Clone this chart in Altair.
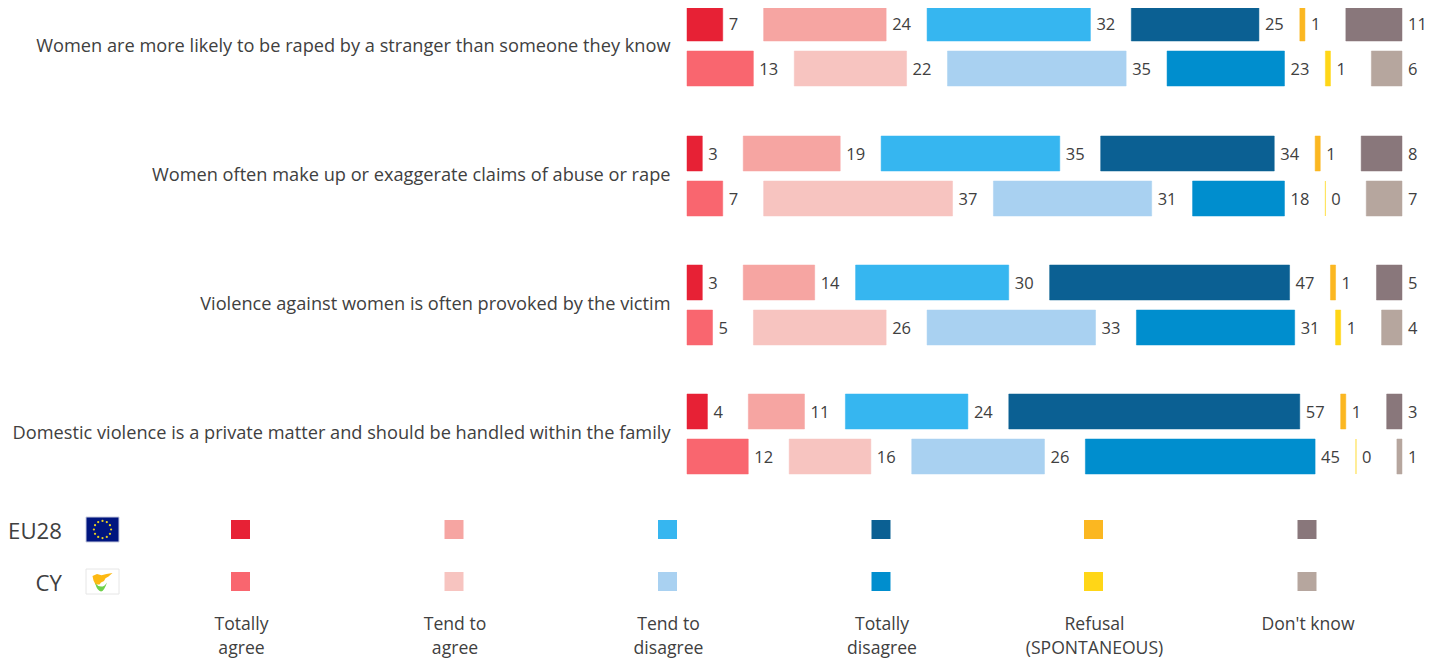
import math
import altair as alt
import pandas as pd

questions = [
    "Women are more likely to be raped by a stranger than someone they know",
    "Women often make up or exaggerate claims of abuse or rape",
    "Violence against women is often provoked by the victim",
    "Domestic violence is a private matter and should be handled within the family",
]
responses = ["Totally agree", "Tend to agree", "Tend to disagree", "Totally disagree",
             "Refusal (SPONTANEOUS)", "Don't know"]
legend_lines = [["Totally", "agree"], ["Tend to", "agree"], ["Tend to", "disagree"],
                ["Totally", "disagree"], ["Refusal", "(SPONTANEOUS)"], ["Don't know"]]
eu28 = [[7, 24, 32, 25, 1, 11], [3, 19, 35, 34, 1, 8], [3, 14, 30, 47, 1, 5], [4, 11, 24, 57, 1, 3]]
cy = [[13, 22, 35, 23, 1, 6], [7, 37, 31, 18, 0, 7], [5, 26, 33, 31, 1, 4], [12, 16, 26, 45, 0, 1]]
eu_colors = ["#E72135", "#F6A5A2", "#36B6F0", "#0B6093", "#FBB721", "#89777B"]
cy_colors = ["#F9666F", "#F7C4C0", "#A9D1F1", "#008ECE", "#FFD617", "#B6A69E"]

W, H = 1423, 652
PX_PER_UNIT = 5.105
ORIGIN = 687
GAP = 40.9 / PX_PER_UNIT
TXT = "#404040"
FONT = "Open Sans"


def ux(page_x):
    return (page_x - ORIGIN) / PX_PER_UNIT


def uy(page_y):
    return page_y - 8


X = alt.Scale(domain=[ux(8), ux(8 + W)], range=[0, W])
Y = alt.Scale(domain=[0, H], range=[0, H])


def xc(f="x"):
    return alt.X(f"{f}:Q", scale=X, axis=None)


def yc(f="y"):
    return alt.Y(f"{f}:Q", scale=Y, axis=None)


group_tops = [6, 136, 265, 394]
bars = []
for g, top in enumerate(group_tops):
    for r, (vals, cols) in enumerate([(eu28[g], eu_colors), (cy[g], cy_colors)]):
        cum = 0
        y0 = top + 45 * r
        for i, v in enumerate(vals):
            x0 = cum + i * GAP
            bars.append(dict(x=x0, x2=x0 + v, y=uy(y0), y2=uy(y0 + 35), ym=uy(y0 + 19),
                             v=v, c=cols[i]))
            cum += v
bars = pd.DataFrame(bars)

bar_layer = alt.Chart(bars).mark_rect(strokeWidth=0.5).encode(
    x=xc(), x2="x2:Q", y=yc(), y2="y2:Q",
    fill=alt.Fill("c:N", scale=None), stroke=alt.Stroke("c:N", scale=None))
val_layer = alt.Chart(bars).mark_text(align="left", baseline="middle", dx=6, font=FONT,
                                      fontSize=16.5, color=TXT).encode(
    x=alt.X("x2:Q", scale=X, axis=None), y=yc("ym"), text="v:Q")

q_df = pd.DataFrame(dict(q=questions, x=[ux(670.5)] * 4,
                         y=[uy(v) for v in (47, 176, 305, 434)]))
q_layer = alt.Chart(q_df).mark_text(align="right", baseline="middle", font=FONT, fontSize=18.2,
                                    color=TXT).encode(x=xc(), y=yc(), text="q:N")

# legend
col_centers = [240.5, 454, 667.5, 881, 1093.5, 1307]
squares = []
for i, cx in enumerate(col_centers):
    for cols, ym in ((eu_colors, 529.5), (cy_colors, 581.5)):
        squares.append(dict(x=ux(cx - 9.5), x2=ux(cx + 9.5), y=uy(ym - 9.5), y2=uy(ym + 9.5), c=cols[i]))
sq_layer = alt.Chart(pd.DataFrame(squares)).mark_rect().encode(
    x=xc(), x2="x2:Q", y=yc(), y2="y2:Q", fill=alt.Fill("c:N", scale=None))

labels = []
for cx, lines in zip(col_centers, legend_lines):
    for k, t in enumerate(lines):
        labels.append(dict(x=ux(cx + 1), y=uy(624.5 + 24 * k), t=t))
lab_layer = alt.Chart(pd.DataFrame(labels)).mark_text(align="center", baseline="middle", font=FONT,
                                                      fontSize=17.6, color=TXT).encode(
    x=xc(), y=yc(), text="t:N")

country = pd.DataFrame(dict(x=[ux(62), ux(62)], y=[uy(532), uy(584)], t=["EU28", "CY"]))
country_layer = alt.Chart(country).mark_text(align="right", baseline="middle", font=FONT,
                                             fontSize=22.2, color=TXT).encode(
    x=xc(), y=yc(), text="t:N")

# flags
flag_rects = pd.DataFrame([
    dict(x=ux(86), x2=ux(119), y=uy(517), y2=uy(542), c="#00157F", s="#C8CCE0"),
    dict(x=ux(86), x2=ux(119), y=uy(569), y2=uy(594), c="#FFFFFF", s="#E6E6E6"),
])
flag_layer = alt.Chart(flag_rects).mark_rect(strokeWidth=1).encode(
    x=xc(), x2="x2:Q", y=yc(), y2="y2:Q",
    fill=alt.Fill("c:N", scale=None), stroke=alt.Stroke("s:N", scale=None))
stars = pd.DataFrame([
    dict(x=ux(102.5 + 8.6 * math.cos(a * math.pi / 6)), y=uy(529.5 + 8.6 * math.sin(a * math.pi / 6)))
    for a in range(12)])
star_layer = alt.Chart(stars).mark_point(filled=True, shape="circle", size=5, opacity=1,
                                         color="#E8D020").encode(x=xc(), y=yc())
island = ("M-1,-0.35 L-0.55,-0.55 L-0.1,-0.42 L0.4,-0.55 L1,-0.65 L0.6,-0.3 L0.3,-0.12 "
          "L0.15,0.15 L-0.15,0.3 L-0.3,0.5 L-0.7,0.5 L-0.9,0.1 Z")
branch = "M-1,-0.5 Q-0.5,0.1 0,0.1 Q0.6,0.1 1,-0.6 Q0.5,0.9 0,0.9 Q-0.6,0.9 -1,-0.5 Z"
island_layer = alt.Chart(pd.DataFrame([dict(x=ux(102.5), y=uy(579.5))])).mark_point(
    filled=True, shape=island, size=400, opacity=1, color="#FDB913").encode(x=xc(), y=yc())
branch_layer = alt.Chart(pd.DataFrame([dict(x=ux(101), y=uy(586))])).mark_point(
    filled=True, shape=branch, size=144, opacity=1, color="#6FD14A").encode(x=xc(), y=yc())

chart = alt.layer(
    bar_layer, val_layer, q_layer, sq_layer, lab_layer, country_layer,
    flag_layer, star_layer, island_layer, branch_layer,
).properties(
    width=W, height=H, padding=0, autosize=alt.AutoSizeParams(type="none"),
    background="white",
).configure_view(stroke=None)

chart.save("out.html", embed_options={"renderer": "svg", "actions": False})
